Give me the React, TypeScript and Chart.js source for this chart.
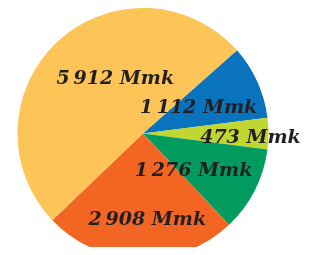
import React, { useEffect, useRef } from "react";
import { Chart, registerables } from "chart.js";

Chart.register(...registerables);

const categories = ["A", "B", "C", "D", "E"];
const values = [1112, 473, 1276, 2908, 5912];
const valueLabels = ["1\u2009112 Mmk", "473 Mmk", "1\u2009276 Mmk", "2\u2009908 Mmk", "5\u2009912 Mmk"];
const colors = ["#0A73BD", "#C1D731", "#029B5F", "#F26522", "#FDC458"];

// label placement: fraction of radius and angular shift (degrees) from slice middle
const labelPlacement = [
  { r: 0.485, shift: 0 },
  { r: 0.857, shift: 2.3 },
  { r: 0.503, shift: 9.8 },
  { r: 0.694, shift: -4.3 },
  { r: 0.485, shift: 15.5 },
];

const labelPlugin = {
  id: "sliceLabels",
  afterDatasetsDraw(chart: any) {
    const ctx = chart.ctx;
    const meta = chart.getDatasetMeta(0);
    ctx.save();
    ctx.font = "italic bold 19px 'DejaVu Serif'";
    ctx.fillStyle = "#231F20";
    ctx.textAlign = "center";
    ctx.textBaseline = "middle";
    meta.data.forEach((arc: any, i: number) => {
      const p = arc.getProps(["x", "y", "startAngle", "endAngle", "outerRadius"], true);
      const mid = (p.startAngle + p.endAngle) / 2 + (labelPlacement[i].shift * Math.PI) / 180;
      const r = p.outerRadius * labelPlacement[i].r;
      ctx.fillText(valueLabels[i], p.x + r * Math.cos(mid), p.y + r * Math.sin(mid));
    });
    ctx.restore();
  },
};

export default function App() {
  const ref = useRef<HTMLCanvasElement | null>(null);
  useEffect(() => {
    if (!ref.current) return;
    const chart = new Chart(ref.current, {
      type: "pie",
      data: {
        labels: categories,
        datasets: [
          {
            data: values,
            backgroundColor: colors,
            borderWidth: 0,
          },
        ],
      },
      options: {
        responsive: false,
        animation: false,
        events: [],
        rotation: 48.5,
        layout: { padding: { right: 31 } },
        plugins: {
          legend: { display: false },
          tooltip: { enabled: false },
        },
      },
      plugins: [labelPlugin],
    });
    return () => chart.destroy();
  }, []);
  return (
    <div style={{ width: 301, height: 247, marginBottom: -8, overflow: "hidden" }}>
      <canvas ref={ref} width={301} height={251} style={{ display: "block" }} />
    </div>
  );
}
